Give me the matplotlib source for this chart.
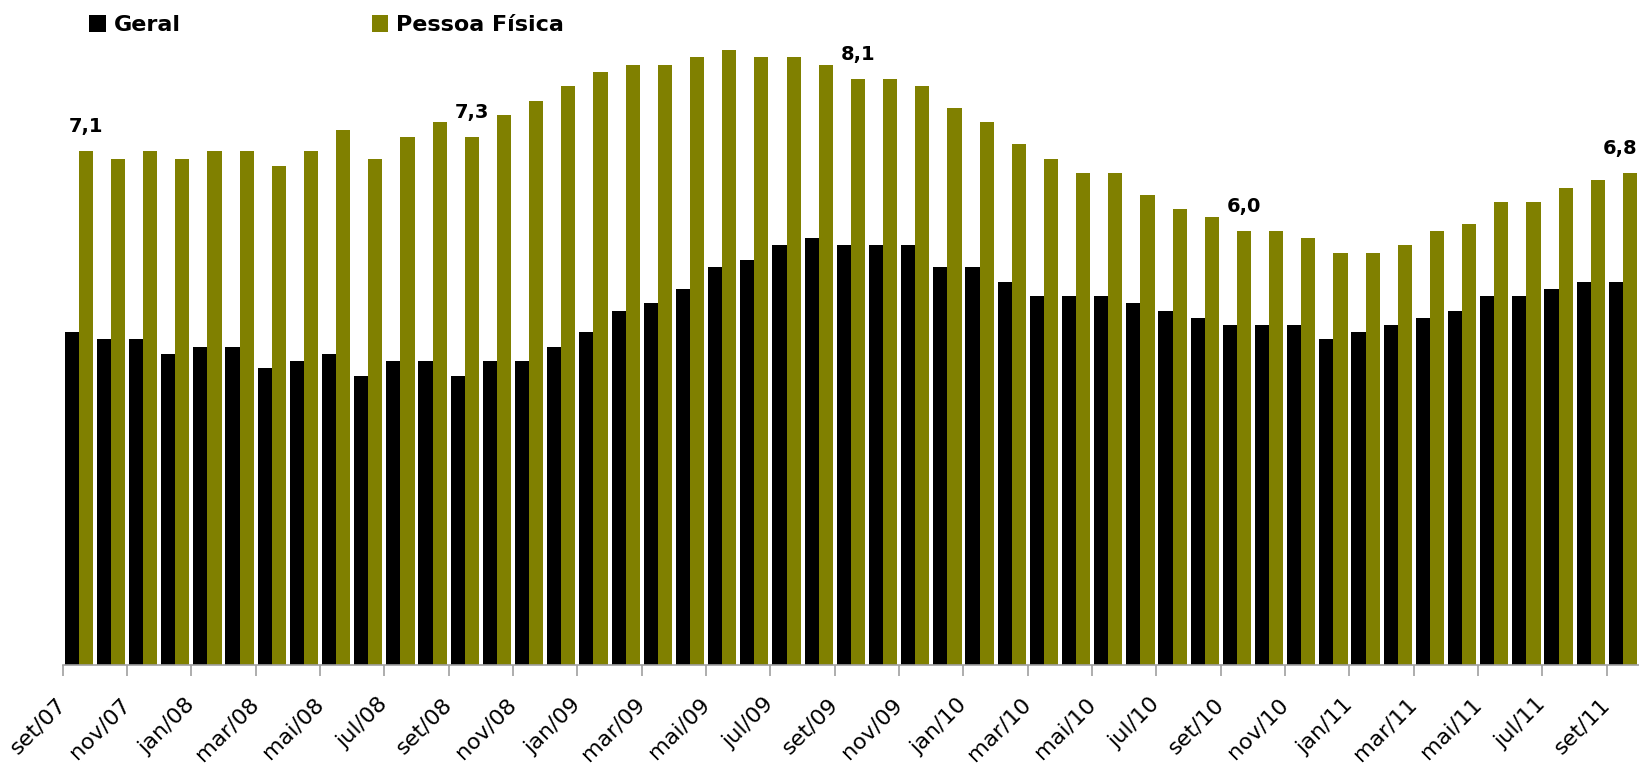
#!/usr/bin/env python3
"""Inadimplência mensal: Geral x Pessoa Física (set/07 a set/11)."""

import matplotlib

matplotlib.use("Agg")
import matplotlib.pyplot as plt
from matplotlib.patches import Patch

plt.rcParams["font.family"] = ["DejaVu Sans"]

meses = [
    "set/07", "out/07", "nov/07", "dez/07",
    "jan/08", "fev/08", "mar/08", "abr/08", "mai/08", "jun/08",
    "jul/08", "ago/08", "set/08", "out/08", "nov/08", "dez/08",
    "jan/09", "fev/09", "mar/09", "abr/09", "mai/09", "jun/09",
    "jul/09", "ago/09", "set/09", "out/09", "nov/09", "dez/09",
    "jan/10", "fev/10", "mar/10", "abr/10", "mai/10", "jun/10",
    "jul/10", "ago/10", "set/10", "out/10", "nov/10", "dez/10",
    "jan/11", "fev/11", "mar/11", "abr/11", "mai/11", "jun/11",
    "jul/11", "ago/11", "set/11",
]

geral = [
    4.6, 4.5, 4.5, 4.3,
    4.4, 4.4, 4.1, 4.2, 4.3, 4.0,
    4.2, 4.2, 4.0, 4.2, 4.2, 4.4,
    4.6, 4.9, 5.0, 5.2, 5.5, 5.6,
    5.8, 5.9, 5.8, 5.8, 5.8, 5.5,
    5.5, 5.3, 5.1, 5.1, 5.1, 5.0,
    4.9, 4.8, 4.7, 4.7, 4.7, 4.5,
    4.6, 4.7, 4.8, 4.9, 5.1, 5.1,
    5.2, 5.3, 5.3,
]

pessoa_fisica = [
    7.1, 7.0, 7.1, 7.0,
    7.1, 7.1, 6.9, 7.1, 7.4, 7.0,
    7.3, 7.5, 7.3, 7.6, 7.8, 8.0,
    8.2, 8.3, 8.3, 8.4, 8.5, 8.4,
    8.4, 8.3, 8.1, 8.1, 8.0, 7.7,
    7.5, 7.2, 7.0, 6.8, 6.8, 6.5,
    6.3, 6.2, 6.0, 6.0, 5.9, 5.7,
    5.7, 5.8, 6.0, 6.1, 6.4, 6.4,
    6.6, 6.7, 6.8,
]

PRETO = "#000000"
OLIVA = "#808000"
CINZA = "#a0a0a0"

W, H = 1639, 767
fig = plt.figure(figsize=(W / 100, H / 100), dpi=100)
ax = fig.add_axes([62.7 / W, 102 / H, (W - 62.7) / W, 651 / H])

x = list(range(len(meses)))
w = 0.44
ax.bar([i - w / 2 for i in x], geral, width=w, color=PRETO, linewidth=0)
ax.bar([i + w / 2 for i in x], pessoa_fisica, width=w, color=OLIVA, linewidth=0)

# rótulos de valor nos meses de setembro
for i, (m, v) in enumerate(zip(meses, pessoa_fisica)):
    if not m.startswith("set"):
        continue
    ultimo = i == len(meses) - 1
    ax.annotate(
        f"{v:.1f}".replace(".", ","),
        xy=(i + w if ultimo else i + w / 2, v),
        xytext=(0, 11), textcoords="offset points",
        ha="right" if ultimo else "center", va="bottom",
        fontsize=14, fontweight="bold", annotation_clip=False,
    )

ax.set_xlim(-0.5, len(meses) - 0.5)
ax.set_ylim(0, 9)

# marcas nas divisas entre meses, a cada dois meses
ax.set_xticks([i - 0.5 for i in x[::2]])
ax.set_xticklabels(meses[::2], rotation=45, ha="right", va="center",
                   rotation_mode="anchor", fontsize=16)
ax.tick_params(axis="x", direction="out", length=8, width=1.2, color=CINZA, pad=18)
ax.set_yticks([])

for lado in ("top", "right", "left"):
    ax.spines[lado].set_visible(False)
ax.spines["bottom"].set_color(CINZA)
ax.spines["bottom"].set_linewidth(1.2)

handles = [Patch(facecolor=PRETO, label="Geral"),
           Patch(facecolor=OLIVA, label="Pessoa Física")]
fig.legend(handles=handles, loc="center left", bbox_to_anchor=(89 / W, 1 - 25 / H),
           ncol=2, frameon=False, borderpad=0, borderaxespad=0,
           handlelength=0.75, handleheight=0.8, handletextpad=0.36,
           columnspacing=8.6, prop={"size": 16, "weight": "bold"})

fig.savefig("out.png", dpi=100)
